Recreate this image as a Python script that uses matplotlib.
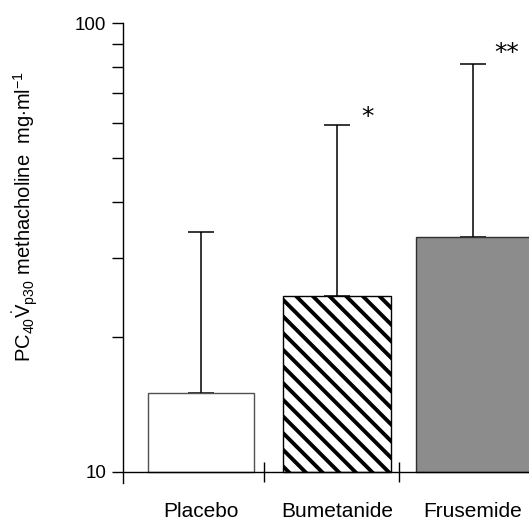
import numpy as np
import matplotlib
matplotlib.use("Agg")
import matplotlib.pyplot as plt
from matplotlib.ticker import FixedLocator, FixedFormatter, LogLocator, NullFormatter

plt.rcParams['font.family'] = ['Liberation Sans', 'DejaVu Sans']
plt.rcParams['mathtext.fontset'] = 'custom'
plt.rcParams['mathtext.rm'] = 'Liberation Sans'
plt.rcParams['mathtext.it'] = 'Liberation Sans:italic'
plt.rcParams['hatch.linewidth'] = 2.8

# geometric means and upper error limits
groups = ["Placebo", "Bumetanide", "Frusemide"]
means = [15.0, 24.6, 33.4]
upper = [34.2, 59.2, 81.2]
signif = ["", "*", "**"]

fig = plt.figure(figsize=(5.29, 5.22), dpi=100)
ax = fig.add_axes([123/529, 39/522, (529-123)/529, (483-23.3)/522])

x = np.arange(len(groups))
widths = [0.78, 0.80, 0.84]
faces = ["white", "white", "#8c8c8c"]
edges = ["#505050", "black", "#303030"]
hatches = [None, "\\\\", None]

ax.set_yscale("log")
ax.set_ylim(10 * 10 ** (-11.3/448), 100)
ax.set_xlim(-0.577, 2.415)

err = [np.zeros(len(means)), np.array(upper) - np.array(means)]
ax.errorbar(x, means, yerr=err, fmt="none", ecolor="black", elinewidth=1.1,
            capsize=9.4, capthick=1.1, zorder=1)

for i in range(len(groups)):
    ax.bar(x[i], means[i] - 10, bottom=10, width=widths[i], color=faces[i],
           edgecolor=edges[i], linewidth=1.0, hatch=hatches[i], zorder=2)

offs = {1: (31, 8), 2: (34, 11)}
for i, s in enumerate(signif):
    if s:
        ax.annotate(s, xy=(x[i], upper[i]), xytext=offs[i], textcoords="offset pixels",
                    ha="center", va="center", fontsize=18, family="DejaVu Sans")

for sp in ["top", "right"]:
    ax.spines[sp].set_visible(False)
ax.spines["bottom"].set_position(("data", 10))
ax.spines["left"].set_linewidth(1.0)
ax.spines["bottom"].set_linewidth(1.0)

ax.yaxis.set_major_locator(FixedLocator([10, 100]))
ax.yaxis.set_major_formatter(FixedFormatter(["10", "100"]))
ax.yaxis.set_minor_locator(LogLocator(base=10, subs=np.arange(2, 10)))
ax.yaxis.set_minor_formatter(NullFormatter())
ax.tick_params(axis="y", which="both", length=8, width=1.0, labelsize=13.5, pad=4)

ax.set_xticks([0.46, 1.46])
ax.set_xticklabels(["", ""])
ax.tick_params(axis="x", which="major", direction="inout", length=14, width=1.0)
ax.set_xticks(x, minor=True)
ax.set_xticklabels(groups, minor=True, fontsize=15)
ax.tick_params(axis="x", which="minor", length=0, pad=22)

ax.set_ylabel(r"PC$_{\mathrm{40}}\overset{.}{\mathrm{V}}_{\mathrm{p30}}$ methacholine  mg$\cdot$ml$^{\mathrm{-1}}$",
              fontsize=14.5)
ax.yaxis.set_label_coords(-0.205, 0.58)

fig.savefig("out.png", dpi=100)
